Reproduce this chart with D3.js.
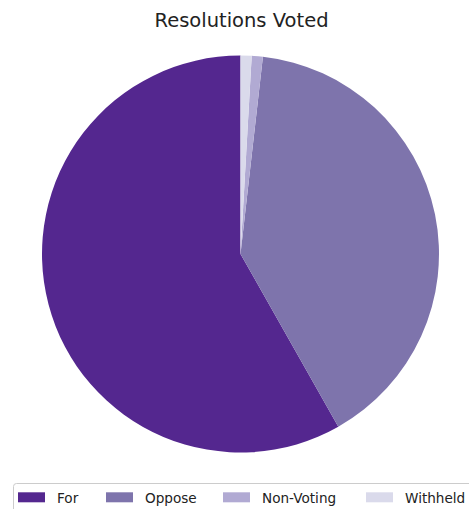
<!DOCTYPE html>
<html>
<head>
<meta charset="utf-8">
<script src="https://cdn.jsdelivr.net/npm/d3@7"></script>
<style>
  body { margin: 0; background: #fff; }
  text { font-family: "DejaVu Sans", sans-serif; }
</style>
</head>
<body>
<div id="chart"></div>
<script>
// data (share of resolutions, %)
var categories = ["For", "Oppose", "Non-Voting", "Withheld"];
var shares = [58.2, 40.0, 0.9, 0.9];
var colours = ["#54278f", "#7e74ac", "#b1aad3", "#dadaeb"];

var width = 469, height = 509;
var cx = 240.5, cy = 254, radius = 198.5;

var svg = d3.select("#chart").append("svg")
  .attr("width", width)
  .attr("height", height);

// title
svg.append("text")
  .attr("x", 241.5)
  .attr("y", 27)
  .attr("text-anchor", "middle")
  .style("font-size", "19.5px")
  .style("fill", "#222")
  .text("Resolutions Voted");

// pie starts at 12 o'clock and runs counter-clockwise (matplotlib style)
var pie = d3.pie()
  .sort(null)
  .value(function(d) { return d; })
  .startAngle(0)
  .endAngle(-2 * Math.PI);

var arc = d3.arc().innerRadius(0).outerRadius(radius);

var colour = d3.scaleOrdinal().domain(categories).range(colours);

svg.append("g")
  .attr("transform", "translate(" + cx + "," + cy + ")")
  .selectAll("path")
  .data(pie(shares))
  .enter()
  .append("path")
  .attr("d", arc)
  .attr("fill", function(d, i) { return colour(categories[i]); });

// legend along the bottom
var legend = svg.append("g");
legend.append("rect")
  .attr("x", 13.5).attr("y", 483.5)
  .attr("width", 470).attr("height", 40)
  .attr("rx", 3)
  .attr("fill", "#fff")
  .attr("stroke", "#cccccc");

var legendX = d3.scaleOrdinal().domain(categories).range([18, 106, 223, 366]);

var item = legend.selectAll("g.item")
  .data(categories)
  .enter()
  .append("g")
  .attr("class", "item")
  .attr("transform", function(d) { return "translate(" + legendX(d) + ",0)"; });

item.append("rect")
  .attr("x", 0).attr("y", 492.3)
  .attr("width", 27).attr("height", 10)
  .attr("fill", function(d) { return colour(d); });

item.append("text")
  .attr("x", 39).attr("y", 502.5)
  .style("font-size", "13.6px")
  .style("fill", "#222")
  .text(function(d) { return d; });
</script>
</body>
</html>
